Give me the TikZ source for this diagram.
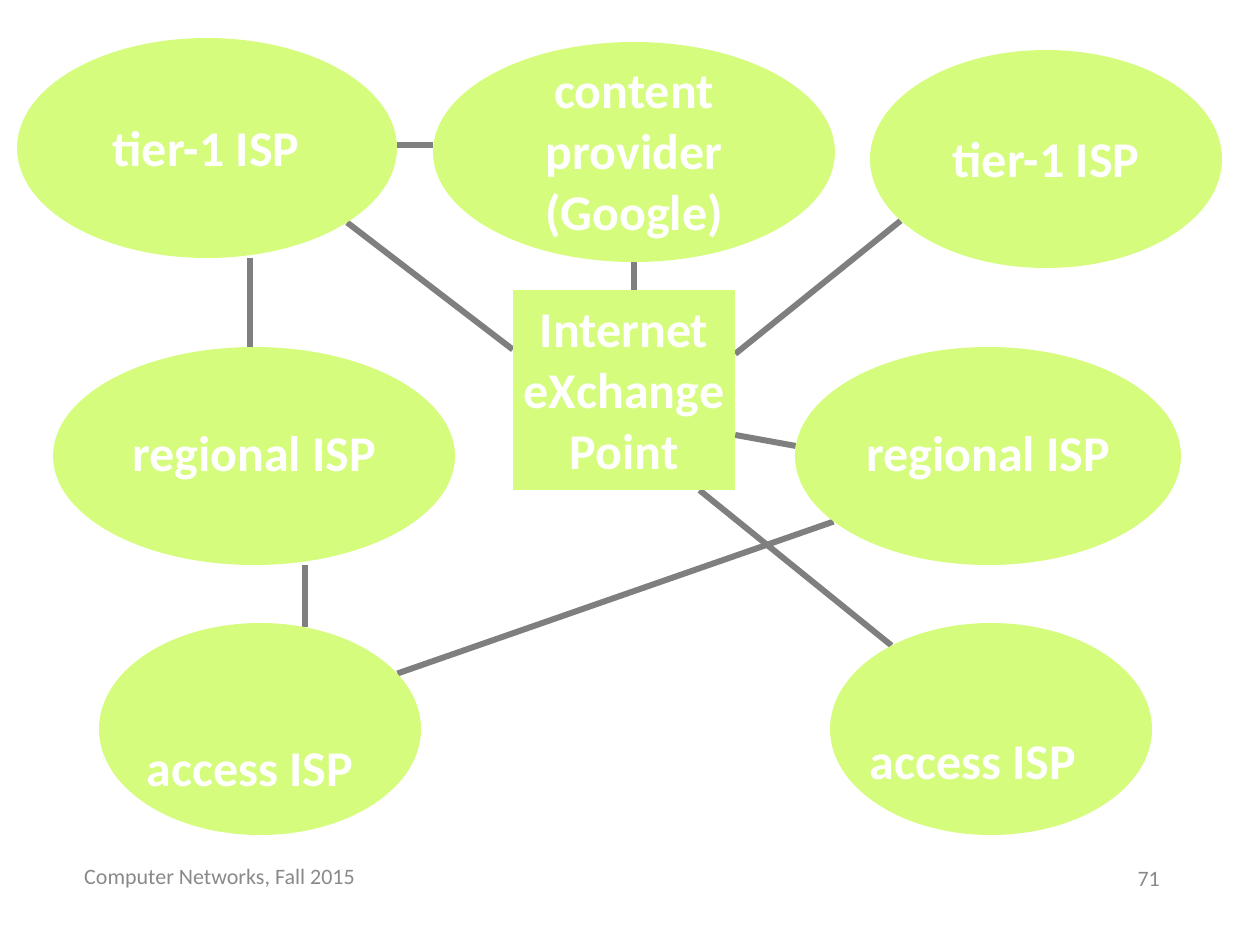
\documentclass[tikz,border=0pt]{standalone}
\usepackage{fontspec}
\setmainfont{Carlito}
\usetikzlibrary{shapes.geometric,backgrounds}
\definecolor{blob}{RGB}{214,252,126}
\definecolor{link}{RGB}{127,127,127}
\definecolor{foot}{RGB}{137,137,137}
\begin{document}
\begin{tikzpicture}[x=1pt,y=-1pt,
  isp/.style={ellipse,fill=blob,draw=none,inner sep=0pt},
  lbl/.style={text=white,font=\fontsize{50}{61}\selectfont\bfseries,align=center,inner sep=0pt},
  conn/.style={draw=link,line width=6pt},
  foottxt/.style={text=foot,font=\fontsize{22}{26}\selectfont,inner sep=0pt}]
\useasboundingbox (0,0) rectangle (1240,932);
\node[isp,minimum width=380pt,minimum height=220pt] (t1l) at (207,148) {};
\node[isp,minimum width=402pt,minimum height=220pt] (cp) at (634,152) {};
\node[isp,minimum width=352pt,minimum height=218pt] (t1r) at (1046,159) {};
\node[isp,minimum width=402pt,minimum height=218pt] (rl) at (254,456) {};
\node[isp,minimum width=386pt,minimum height=218pt] (rr) at (988,456) {};
\node[isp,minimum width=322pt,minimum height=212pt] (al) at (260,729) {};
\node[isp,minimum width=322pt,minimum height=212pt] (ar) at (991,729) {};
\node[rectangle,fill=blob,inner sep=0pt,minimum width=222pt,minimum height=200pt] (ixp) at (624,390) {};

\node[lbl] (t1ltxt) at (206,149) {tier-1 ISP};
\node[lbl] (cptxt) at (634,158) {content\\provider\\(Google)};
\node[lbl] (t1rtxt) at (1046,160) {tier-1 ISP};
\node[lbl] (rltxt) at (254,458) {regional ISP};
\node[lbl] (rrtxt) at (988,458) {regional ISP};
\node[lbl] (altxt) at (250,770) {access ISP};
\node[lbl] (artxt) at (973,763) {access ISP};
\node[lbl] (ixptxt) at (624,392) {Internet\\eXchange\\Point};

\node[foottxt,anchor=west] (course) at (84,879) {Computer Networks, Fall 2015};
\node[foottxt,anchor=east] (page) at (1160,879) {71};

\begin{scope}[on background layer]
\draw[conn] (t1l.1) -- (t1l.1 -| cp.west);
\draw[conn] (t1l.-28.6) -- (ixp.160);
\draw[conn] (cp.south) -- (cp.south |- ixp.north);
\draw[conn] (t1r.-157.3) -- (ixp.18.9);
\draw[conn] (ixp.-22) -- (rr.177.6);
\draw[conn] (ixp.-53.9) -- (ar.140.3);
\draw[conn] ([xshift=-4pt]rl.north) -- ([xshift=-4pt]rl.north |- t1l.south);
\draw[conn] (al.66) -- (al.66 |- rl.south);
\draw[conn] (al.22.5) -- (rr.-157.3);
\end{scope}
\end{tikzpicture}
\end{document}
